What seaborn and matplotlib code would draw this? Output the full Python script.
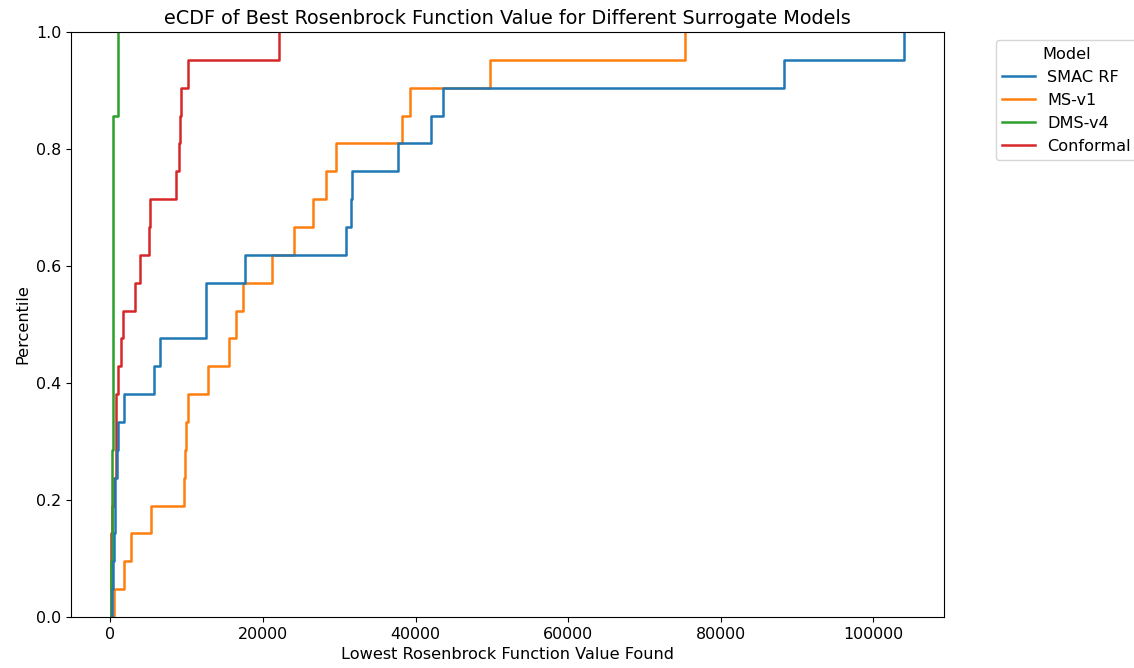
import matplotlib
matplotlib.use("Agg")
import matplotlib.pyplot as plt
import numpy as np
import pandas as pd
import seaborn as sns

# Best Rosenbrock value reached in each of 21 runs, per surrogate model
models = ["SMAC RF", "MS-v1", "DMS-v4", "Conformal"]

smac_rf = [250, 330, 420, 560, 620, 900, 1010, 1835, 5680, 6460, 12490,
           12580, 17600, 30850, 31550, 31680, 37690, 42040, 43560, 88270,
           104090]
ms_v1 = [433, 1835, 2714, 5375, 9610, 9740, 9925, 10130, 12810, 15600,
         16480, 17400, 21200, 24080, 26570, 28320, 29590, 38220, 39330,
         49820, 75380]
dms_v4 = [60, 110, 150, 190, 230, 260, 280, 300, 310, 320, 330, 335, 340,
          345, 350, 352, 356, 360, 1005, 1010, 1015]
conformal = [30, 60, 100, 140, 520, 690, 730, 760, 1010, 1440, 1610, 3280,
             3840, 5110, 5150, 8650, 8950, 9180, 9310, 10120, 22160]

series = [smac_rf, ms_v1, dms_v4, conformal]
df = pd.DataFrame({
    "Value": np.concatenate(series),
    "Model": np.repeat(models, [len(s) for s in series]),
})

fig = plt.figure(figsize=(11.34, 6.68), dpi=100)
ax = fig.add_axes([0.0626, 0.0763, 0.77, 0.8757])

sns.ecdfplot(data=df, x="Value", hue="Model", hue_order=models,
             palette="tab10", linewidth=1.8, ax=ax)

ax.set_title("eCDF of Best Rosenbrock Function Value for Different Surrogate Models",
             fontsize=13.9)
ax.set_xlabel("Lowest Rosenbrock Function Value Found", fontsize=11.6)
ax.set_ylabel("Percentile", fontsize=11.6)
ax.tick_params(labelsize=11.4)
ax.set_ylim(0, 1)

sns.move_legend(ax, "upper left", bbox_to_anchor=(1.05, 1), title="Model",
                fontsize=11.6, title_fontsize=11.6)

fig.savefig("out.png", dpi=100)
